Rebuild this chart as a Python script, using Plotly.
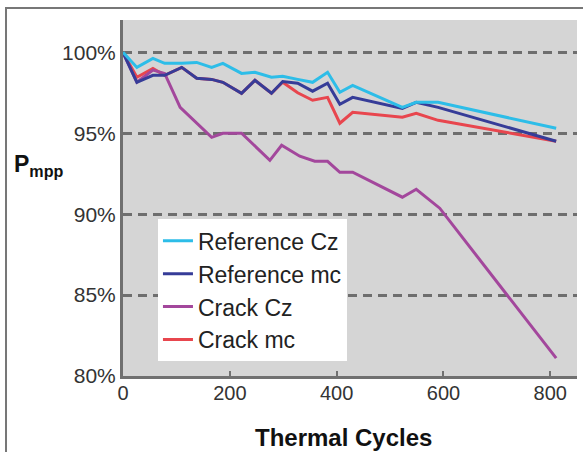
import plotly.graph_objects as go

# Thermal cycles (shared by the upper three series)
cycles = [0, 26, 56, 78, 110, 138, 166, 187, 222, 247, 278, 299, 327, 355, 383, 406, 430, 523, 549, 590, 811]
ref_cz = [100.0, 99.07, 99.63, 99.32, 99.32, 99.38, 99.07, 99.32, 98.70, 98.77, 98.46, 98.52, 98.33, 98.15, 98.77, 97.53, 97.96, 96.60, 96.91, 96.91, 95.31]
ref_mc = [100.0, 98.15, 98.58, 98.58, 99.07, 98.40, 98.33, 98.15, 97.47, 98.27, 97.47, 98.20, 98.09, 97.60, 98.09, 96.79, 97.22, 96.54, 96.91, 96.60, 94.51]
crack_mc = [100.0, 98.46, 99.00, 98.58, 99.07, 98.40, 98.33, 98.15, 97.47, 98.27, 97.47, 98.15, 97.50, 97.04, 97.22, 95.62, 96.30, 95.99, 96.23, 95.80, 94.51]

cycles_crack_cz = [0, 26, 56, 78, 107, 166, 187, 222, 275, 297, 331, 359, 383, 406, 430, 523, 549, 593, 811]
crack_cz = [100.0, 98.15, 98.90, 98.70, 96.60, 94.75, 95.0, 95.0, 93.33, 94.26, 93.58, 93.27, 93.27, 92.59, 92.59, 91.05, 91.54, 90.37, 81.10]

y_ticks = [80, 85, 90, 95, 100]
y_tick_text = ["80%", "85%", "90%", "95%", "100%"]
x_ticks = [0, 200, 400, 600, 800]

FONT = "Liberation Sans, Arial, sans-serif"

fig = go.Figure()
fig.add_trace(go.Scatter(x=cycles, y=crack_mc, mode="lines", name="Crack mc",
                         line=dict(color="#e8464e", width=3)))
fig.add_trace(go.Scatter(x=cycles_crack_cz, y=crack_cz, mode="lines", name="Crack Cz",
                         line=dict(color="#a3479c", width=3)))
fig.add_trace(go.Scatter(x=cycles, y=ref_mc, mode="lines", name="Reference mc",
                         line=dict(color="#363c98", width=3)))
fig.add_trace(go.Scatter(x=cycles, y=ref_cz, mode="lines", name="Reference Cz",
                         line=dict(color="#2dbde8", width=3)))

fig.update_layout(
    width=583, height=452,
    margin=dict(l=123, r=6, t=20, b=76, autoexpand=False),
    paper_bgcolor="white",
    plot_bgcolor="#d5d5d5",
    font=dict(family=FONT, color="#333333", size=20),
    showlegend=True,
    legend=dict(
        traceorder="reversed",
        x=0.077, y=0.44, xanchor="left", yanchor="top",
        bgcolor="white",
        font=dict(size=23, color="#222222", family=FONT),
        itemwidth=30,
        tracegroupgap=0,
    ),
    xaxis=dict(
        range=[0, 850], tickvals=x_ticks, showgrid=False, zeroline=False,
        showline=True, linecolor="#707070", linewidth=3, automargin=False,
        ticks="inside", ticklen=5, tickcolor="#707070", tickwidth=2,
        tickfont=dict(size=20, color="#333333"), ticklabelstandoff=-3,
    ),
    yaxis=dict(
        range=[80, 102], tickvals=y_ticks, ticktext=y_tick_text,
        showgrid=True, gridcolor="#6e6e6e", gridwidth=3, griddash="9px,6px",
        zeroline=False, showline=True, linecolor="#707070", linewidth=3,
        automargin=False, ticks="", tickfont=dict(size=21, color="#333333"),
    ),
    annotations=[
        dict(text="<b>Thermal Cycles</b>", xref="paper", yref="paper",
             x=0.485, y=-0.172, xanchor="center", yanchor="middle",
             showarrow=False, font=dict(size=24, color="#111111", family=FONT)),
        dict(text="<b>P<sub>mpp</sub></b>", xref="paper", yref="paper",
             x=-0.245, y=0.59, xanchor="left", yanchor="middle",
             showarrow=False, font=dict(size=23, color="#111111", family=FONT)),
    ],
    shapes=[
        dict(type="rect", xref="paper", yref="paper",
             x0=-0.2577, x1=1.05, y0=-0.3, y1=1.0337,
             line=dict(color="#777777", width=2), fillcolor="rgba(0,0,0,0)", layer="below"),
    ],
)

fig.write_html("out.html", config={"displayModeBar": False},
               post_script="document.body.style.margin='0';document.body.style.overflow='hidden';")
